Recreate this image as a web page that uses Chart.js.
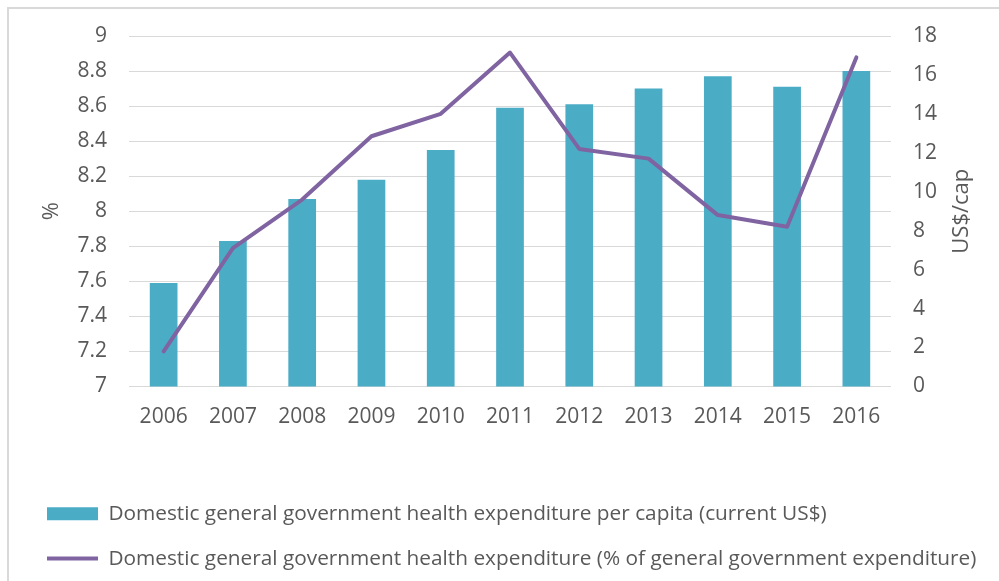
<!DOCTYPE html>
<html>
<head>
<meta charset="utf-8">
<script src="https://cdn.jsdelivr.net/npm/chart.js@4/dist/chart.umd.min.js"></script>
<style>
  html, body { margin: 0; padding: 0; background: #fff; overflow: hidden; }
  #frame { position: absolute; left: 7px; top: 7px; width: 1100px; height: 700px; border: 2px solid #d9d9d9; }
  #wrap { position: absolute; left: 0; top: 0; width: 999px; height: 581px; }
</style>
</head>
<body>
<div id="frame"></div>
<div id="wrap"><canvas id="cnv"></canvas></div>
<script>
(function(){

    var years = ['2006','2007','2008','2009','2010','2011','2012','2013','2014','2015','2016'];
    var perCapita = [7.59, 7.83, 8.07, 8.18, 8.35, 8.59, 8.61, 8.70, 8.77, 8.71, 8.80];
    var shareOfGov = [1.8, 7.1, 9.6, 12.85, 14.0, 17.15, 12.2, 11.7, 8.8, 8.2, 16.9];

    var barLabel = 'Domestic general government health expenditure per capita (current US$)';
    var lineLabel = 'Domestic general government health expenditure (% of general government expenditure)';
    var leftTitle = '%';
    var rightTitle = 'US$/cap';

    var grey = '#595959';
    Chart.defaults.font.family = "'Open Sans', sans-serif";
    Chart.defaults.color = grey;

    // right axis title reads bottom-to-top, like the left one
    var rightTitlePlugin = {
        id: 'rightTitle',
        afterDraw: function(chart){
            var ctx = chart.ctx;
            var y = (chart.chartArea.top + chart.chartArea.bottom) / 2;
            ctx.save();
            ctx.translate(962, y);
            ctx.rotate(-Math.PI / 2);
            ctx.font = "22px 'Open Sans', sans-serif";
            ctx.fillStyle = grey;
            ctx.textAlign = 'center';
            ctx.textBaseline = 'middle';
            ctx.fillText(rightTitle, 0, 0);
            ctx.restore();
        }
    };

    var data = {
        labels: years,
        datasets: [
            {
                type: 'bar',
                label: barLabel,
                data: perCapita,
                yAxisID: 'y',
                backgroundColor: '#4BACC6',
                borderWidth: 0,
                barPercentage: 0.4,
                categoryPercentage: 1,
                pointStyle: 'rect',
                order: 2
            },
            {
                type: 'line',
                label: lineLabel,
                data: shareOfGov,
                yAxisID: 'y1',
                borderColor: '#8064A2',
                backgroundColor: '#8064A2',
                borderWidth: 4,
                borderCapStyle: 'round',
                borderJoinStyle: 'round',
                pointRadius: 0,
                tension: 0,
                pointStyle: 'line',
                order: 1
            }
        ]
    };

    var opt = {
        responsive: true,
        maintainAspectRatio: false,
        animation: false,
        layout: { padding: { top: 36, left: 23, right: 0, bottom: 2 } },
        plugins: {
            tooltip: { enabled: false },
            legend: {
                position: 'bottom',
                align: 'start',
                labels: {
                    usePointStyle: true,
                    pointStyleWidth: 51,
                    boxHeight: 13,
                    padding: 24,
                    color: grey,
                    font: { family: "'Open Sans', sans-serif", size: 20.8 },
                    sort: function(a, b){ return a.datasetIndex - b.datasetIndex; }
                }
            }
        },
        scales: {
            x: {
                grid: { display: false },
                border: { display: false },
                ticks: { font: { size: 21 }, padding: 10, maxRotation: 0 },
                afterFit: function(scale){ scale.height = 93; }
            },
            y: {
                position: 'left',
                min: 7,
                max: 9,
                ticks: {
                    stepSize: 0.2,
                    font: { size: 21 },
                    padding: 22,
                    callback: function(v){ return String(+v.toFixed(1)); }
                },
                grid: { color: '#d9d9d9', lineWidth: 1, drawTicks: false },
                border: { display: false },
                title: { display: true, text: leftTitle, font: { size: 22 }, padding: { top: 16, bottom: 0 } },
                afterFit: function(scale){ scale.width = 106; }
            },
            y1: {
                position: 'right',
                min: 0,
                max: 18,
                ticks: { stepSize: 2, font: { size: 21 }, padding: 22 },
                grid: { display: false, drawTicks: false },
                border: { display: false },
                afterFit: function(scale){ scale.width = 108; }
            }
        }
    };

    new Chart(document.getElementById('cnv'), {
        data: data,
        options: opt,
        plugins: [rightTitlePlugin]
    });

})();
</script>
</body>
</html>
